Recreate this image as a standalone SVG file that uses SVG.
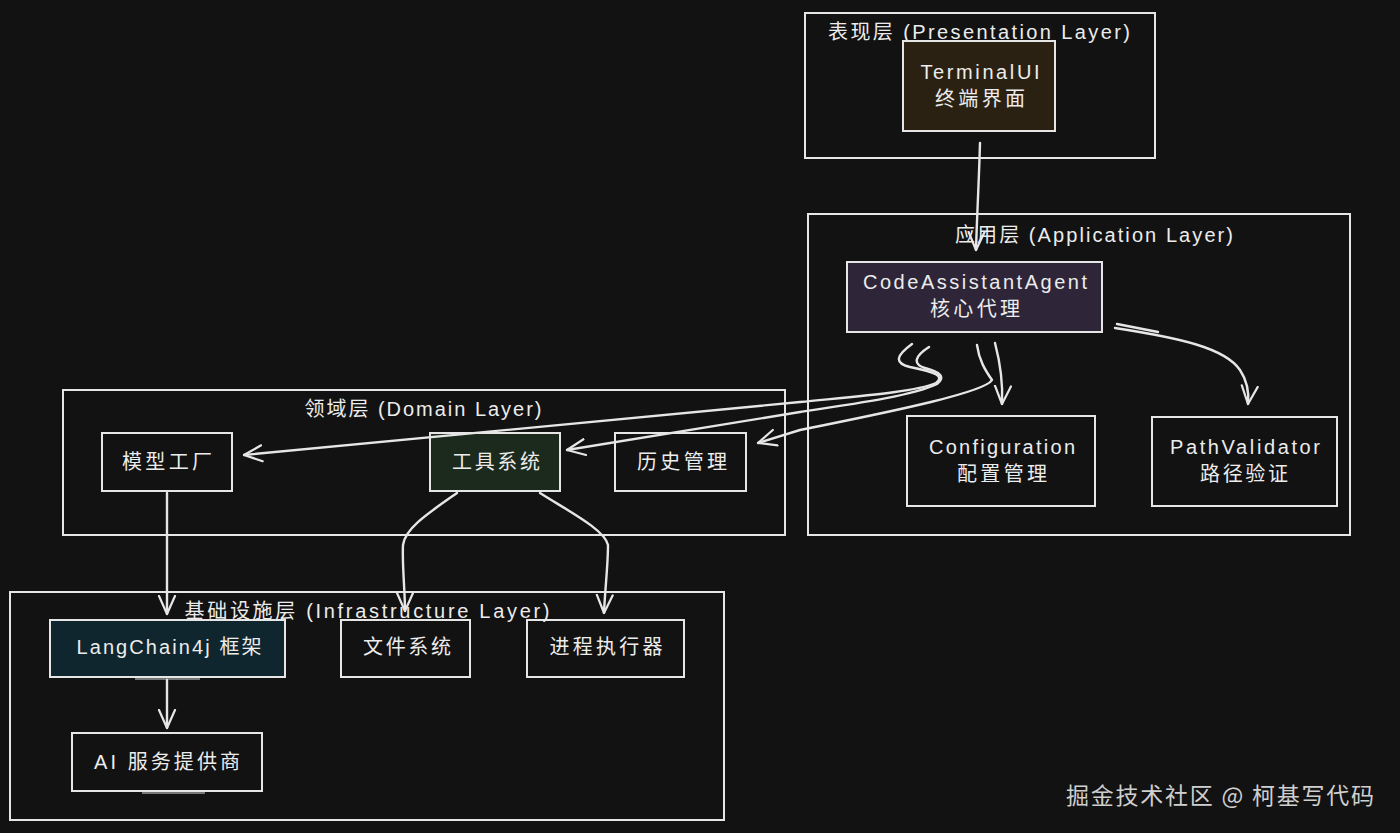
<svg xmlns="http://www.w3.org/2000/svg" width="1400" height="833" viewBox="0 0 1400 833">
<style>
.bg{fill:#121212}
.layer{fill:none;stroke:#e6e6e6;stroke-width:2}
.box{fill:#121212;stroke:#e6e6e6;stroke-width:2}
.t{font-family:"Liberation Sans","Noto Sans CJK SC",sans-serif;font-size:20px;fill:#ececec;text-anchor:middle}
.cn{font-family:"Noto Sans CJK SC",sans-serif;font-size:20px;fill:#ececec;text-anchor:middle}
.conn{fill:none;stroke:#e6e6e6;stroke-width:2.4;stroke-linecap:round;stroke-linejoin:round}
.wm{font-family:"Noto Sans CJK SC",sans-serif;font-size:23px;fill:#cfcfcf;text-anchor:middle}
</style>
<defs>
<marker id="arr" viewBox="0 0 20 20" refX="19" refY="10" markerWidth="20" markerHeight="20" orient="auto" markerUnits="userSpaceOnUse">
<path d="M1,2 L19,10 L1,18" fill="none" stroke="#e6e6e6" stroke-width="2.2" stroke-linecap="round" stroke-linejoin="round"/>
</marker>
</defs>
<rect class="bg" x="0" y="0" width="1400" height="833"/>

<g id="layer-presentation">
<rect class="layer" x="805" y="13" width="350" height="145"/>
<text class="t" x="979" y="39" textLength="302">表现层 (Presentation Layer)</text>
</g>
<g id="layer-application">
<rect class="layer" x="808" y="214" width="542" height="321"/>
<text class="t" x="1094" y="242" textLength="278">应用层 (Application Layer)</text>
</g>
<g id="layer-domain">
<rect class="layer" x="63" y="390" width="722" height="145"/>
<text class="t" x="423" y="416" textLength="237">领域层 (Domain Layer)</text>
</g>
<g id="layer-infrastructure">
<rect class="layer" x="10" y="592" width="714" height="228"/>
</g>

<g id="node-terminalui">
<rect class="box" x="903" y="41" width="152" height="90" style="fill:#2b2112"/>
<text class="t" x="980" y="79" textLength="119">TerminalUI</text>
<text class="cn" x="980" y="106" textLength="90">终端界面</text>
</g>
<g id="node-agent">
<rect class="box" x="847" y="262" width="255" height="70" style="fill:#2e2638"/>
<text class="t" x="975" y="289" textLength="224">CodeAssistantAgent</text>
<text class="cn" x="975" y="316" textLength="90">核心代理</text>
</g>
<g id="node-config">
<rect class="box" x="907" y="416" width="188" height="90"/>
<text class="t" x="1002" y="454" textLength="146">Configuration</text>
<text class="cn" x="1002" y="481" textLength="90">配置管理</text>
</g>
<g id="node-pathvalidator">
<rect class="box" x="1152" y="417" width="185" height="89"/>
<text class="t" x="1245" y="454" textLength="150">PathValidator</text>
<text class="cn" x="1244" y="481" textLength="88">路径验证</text>
</g>
<g id="node-modelfactory">
<rect class="box" x="102" y="433" width="130" height="58"/>
<text class="cn" x="167" y="469" textLength="90">模型工厂</text>
</g>
<g id="node-toolsystem">
<rect class="box" x="430" y="433" width="130" height="58" style="fill:#1b2a1c"/>
<text class="cn" x="496" y="469" textLength="88">工具系统</text>
</g>
<g id="node-history">
<rect class="box" x="615" y="433" width="131" height="58"/>
<text class="cn" x="682" y="469" textLength="90">历史管理</text>
</g>
<g id="node-langchain4j">
<rect class="box" x="50" y="620" width="235" height="57" style="fill:#10262f"/>
<line x1="135" y1="679" x2="200" y2="679" stroke="#9a9a9a" stroke-width="1.5"/>
<text class="t" x="169" y="654" textLength="185">LangChain4j 框架</text>
</g>
<g id="node-filesystem">
<rect class="box" x="341" y="620" width="129" height="57"/>
<text class="cn" x="407" y="654" textLength="88">文件系统</text>
</g>
<g id="node-process">
<rect class="box" x="527" y="620" width="157" height="57"/>
<text class="cn" x="606" y="654" textLength="113">进程执行器</text>
</g>
<g id="node-aiprovider">
<rect class="box" x="72" y="733" width="190" height="58"/>
<line x1="142" y1="793" x2="205" y2="793" stroke="#9a9a9a" stroke-width="1.5"/>
<text class="t" x="167" y="769" textLength="146">AI 服务提供商</text>
</g>

<g id="connectors">
<path class="conn" marker-end="url(#arr)" d="M980,143 C979,180 977,215 976,250"/>
<path class="conn" marker-end="url(#arr)" d="M995,343 C1000,362 1003,385 1002,404"/>
<path class="conn" marker-end="url(#arr)" d="M1115,328 C1180,338 1225,348 1240,370 C1248,382 1249,394 1248,404"/>
<path class="conn" d="M1117,324 L1158,332" stroke-width="1.5"/>
<path class="conn" marker-end="url(#arr)" d="M912,344 C897,355 893,363 910,367 C935,372 945,376 936,383 C915,392 860,396 800,402 L244,455"/>
<path class="conn" marker-end="url(#arr)" d="M929,347 C915,356 912,364 925,368 C940,372 946,377 937,384 C915,395 860,403 800,412 L567,450"/>
<path class="conn" marker-end="url(#arr)" d="M977,345 C979,360 985,370 992,380 C985,392 900,410 800,430 L758,443"/>
<path class="conn" marker-end="url(#arr)" d="M167,493 L167,614"/>
<path class="conn" marker-end="url(#arr)" d="M457,493 C430,512 405,528 403,545 C402,565 405,590 405,611"/>
<path class="conn" marker-end="url(#arr)" d="M540,493 C570,512 605,530 608,545 C608,565 605,590 604,613"/>
<path class="conn" marker-end="url(#arr)" d="M167,680 L167,728"/>
</g>

<g id="infra-title">
<text class="t" x="367" y="618" textLength="365">基础设施层 (Infrastructure Layer)</text>
</g>

<text class="wm" x="1220" y="804" textLength="308">掘金技术社区 @ 柯基写代码</text>
</svg>
